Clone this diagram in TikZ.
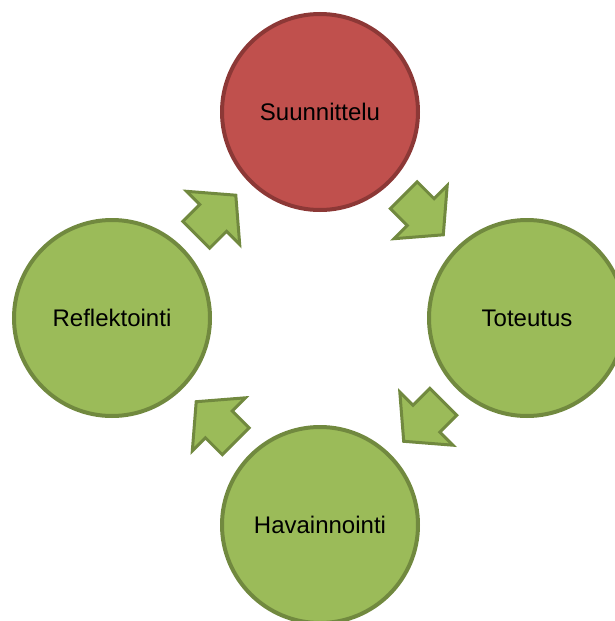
\documentclass[tikz,border=0pt]{standalone}
\usepackage{fontspec}
\setmainfont{Liberation Sans}
\usetikzlibrary{calc}
\definecolor{redfill}{HTML}{C0504D}
\definecolor{redline}{HTML}{8C3836}
\definecolor{greenfill}{HTML}{9BBB59}
\definecolor{greenline}{HTML}{71893F}
\tikzset{
  stage/.style={circle, minimum size=196pt, inner sep=0pt, line width=4pt,
    draw=greenline, fill=greenfill, font=\fontsize{24}{28}\selectfont},
  redstage/.style={stage, draw=redline, fill=redfill},
  blockarrow/.style={draw=greenline, fill=greenfill, line width=3pt, line join=miter},
  pics/cyclearrow/.style={code={
    \path[blockarrow] (-28,19) -- (-4,19) -- (-4,37.5) -- (28,0) -- (-4,-37.5)
      -- (-4,-19) -- (-28,-19) -- cycle;
  }}
}
\begin{document}
\begin{tikzpicture}[x=1pt,y=-1pt]
\useasboundingbox (0,0) rectangle (615,621);
\clip (0,0) rectangle (615,621);
\node[redstage] (plan) at (320,112) {Suunnittelu};
\node[stage] (act) at (527,318) {Toteutus};
\node[stage] (obs) at (320,525) {Havainnointi};
\node[stage] (refl) at (112,318) {Reflektointi};
\pic[shift={($(refl)!0.5!(plan)$)}, rotate=45] {cyclearrow};
\pic[shift={($(plan)!0.5!(act)$)}, rotate=-45] {cyclearrow};
\pic[shift={($(act)!0.5!(obs)$)}, rotate=-135] {cyclearrow};
\pic[shift={($(obs)!0.5!(refl)$)}, rotate=135] {cyclearrow};
\end{tikzpicture}
\end{document}
